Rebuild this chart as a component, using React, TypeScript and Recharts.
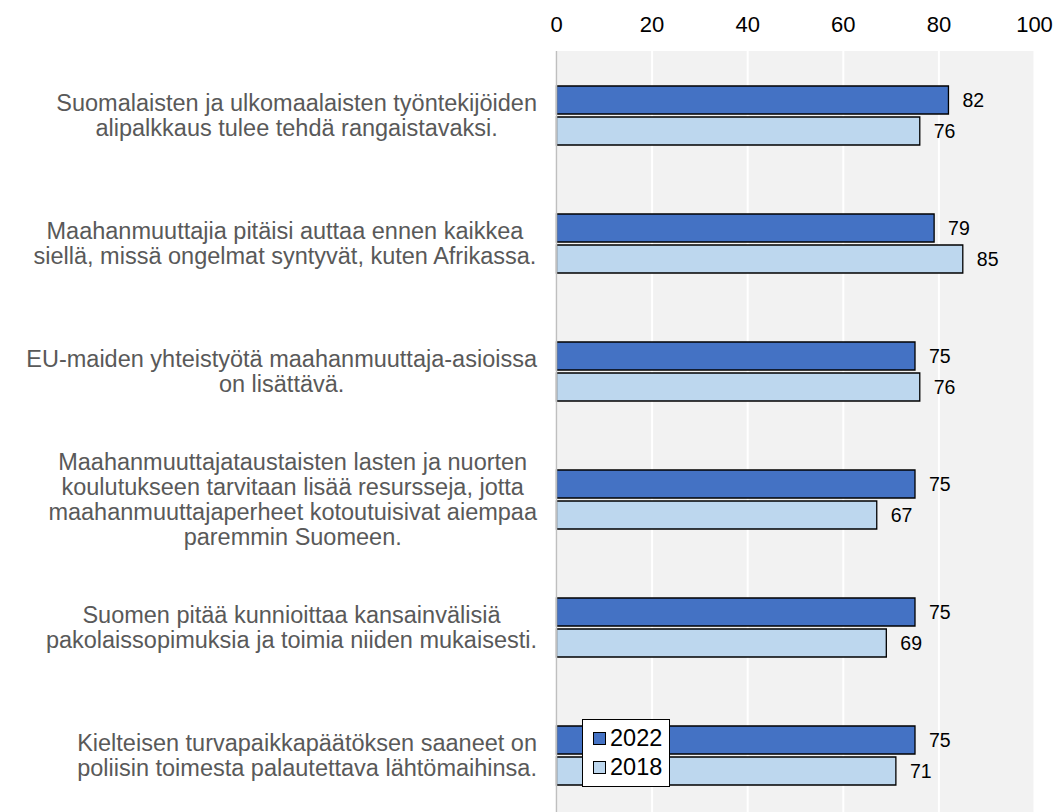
import React from 'react';
import {
  BarChart,
  Bar,
  XAxis,
  YAxis,
  CartesianGrid,
  LabelList,
  Legend,
} from 'recharts';

// Kysymykset (rivinvaihdot kuten kuvassa)
const categories = [
  'Suomalaisten ja ulkomaalaisten työntekijöiden\nalipalkkaus tulee tehdä rangaistavaksi.',
  'Maahanmuuttajia pitäisi auttaa ennen kaikkea\nsiellä, missä ongelmat syntyvät, kuten Afrikassa.',
  'EU-maiden yhteistyötä maahanmuuttaja-asioissa\non lisättävä.',
  'Maahanmuuttajataustaisten lasten ja nuorten\nkoulutukseen tarvitaan lisää resursseja, jotta\nmaahanmuuttajaperheet kotoutuisivat aiempaa\nparemmin Suomeen.',
  'Suomen pitää kunnioittaa kansainvälisiä\npakolaissopimuksia ja toimia niiden mukaisesti.',
  'Kielteisen turvapaikkapäätöksen saaneet on\npoliisin toimesta palautettava lähtömaihinsa.',
];

const values2022 = [82, 79, 75, 75, 75, 75];
const values2018 = [76, 85, 76, 67, 69, 71];

const xTicks = [0, 20, 40, 60, 80, 100];

const seriesNames = ['2022', '2018'];
const seriesColors = ['#4472C4', '#BDD7EE'];

const data = categories.map((name, i) => ({
  name,
  y2022: values2022[i],
  y2018: values2018[i],
}));

const FONT = '"Liberation Sans", Arial, sans-serif';
const LABEL_SIZE = 23.5;
const LABEL_RIGHT = 537;
const LINE_H = 25;

let ctx: CanvasRenderingContext2D | null = null;
const measure = (s: string) => {
  if (!ctx) {
    ctx = document.createElement('canvas').getContext('2d');
  }
  if (!ctx) return s.length * LABEL_SIZE * 0.5;
  ctx.font = `${LABEL_SIZE}px "Liberation Sans", Arial, sans-serif`;
  return ctx.measureText(s).width;
};

const CategoryTick = (props: any) => {
  const { y, payload } = props;
  const lines: string[] = String(payload.value).split('\n');
  const blockW = Math.max(...lines.map(measure));
  const cx = LABEL_RIGHT - blockW / 2;
  const startY = y - ((lines.length - 1) * LINE_H) / 2;
  return (
    <text textAnchor="middle" fontSize={LABEL_SIZE} fill="#595959" fontFamily={FONT}>
      {lines.map((l, i) => (
        <tspan key={i} x={cx} y={startY + i * LINE_H} dy="0.36em">
          {l}
        </tspan>
      ))}
    </text>
  );
};

const ValueTick = (props: any) => {
  const { x, payload } = props;
  return (
    <text x={x} y={32} textAnchor="middle" fontSize={22} fill="#000" fontFamily={FONT}>
      {payload.value}
    </text>
  );
};

const LegendBox = () => (
  <div
    style={{
      background: '#fff',
      border: '1px solid #000',
      width: 88,
      padding: '4px 0 4px 10px',
      boxSizing: 'border-box',
      fontFamily: FONT,
      fontSize: 23.5,
      color: '#000',
    }}
  >
    {seriesNames.map((n, i) => (
      <div key={n} style={{ display: 'flex', alignItems: 'center', height: 29 }}>
        <span
          style={{
            display: 'inline-block',
            width: 11,
            height: 11,
            background: seriesColors[i],
            border: '1px solid #000',
            marginRight: 4,
          }}
        />
        {n}
      </div>
    ))}
  </div>
);

export default function App() {
  return (
    <div
      style={{
        position: 'fixed',
        left: 0,
        top: 0,
        width: 1058,
        height: 812,
        overflow: 'hidden',
        background: '#fff',
        fontFamily: FONT,
      }}
    >
      <BarChart
        width={1058}
        height={819}
        data={data}
        layout="vertical"
        margin={{ top: 0, right: 23.5, bottom: 0, left: 0 }}
        barSize={28}
        barGap={3}
      >
        <CartesianGrid
          horizontal={false}
          vertical
          stroke="#ffffff"
          strokeWidth={2}
          fill="#f2f2f2"
        />
        <XAxis
          type="number"
          orientation="top"
          domain={[0, 100]}
          ticks={xTicks}
          height={51}
          axisLine={false}
          tickLine={false}
          tick={<ValueTick />}
          interval={0}
        />
        <YAxis
          type="category"
          dataKey="name"
          width={556.5}
          axisLine={{ stroke: '#bfbfbf', strokeWidth: 1.5 }}
          tickLine={false}
          tick={<CategoryTick />}
          interval={0}
        />
        <Legend
          layout="vertical"
          align="center"
          verticalAlign="middle"
          content={<LegendBox />}
          wrapperStyle={{ left: 582, top: 719, width: 'auto', height: 'auto' }}
        />
        <Bar
          dataKey="y2022"
          name={seriesNames[0]}
          fill={seriesColors[0]}
          stroke="#000"
          strokeWidth={1.3}
          isAnimationActive={false}
        >
          <LabelList
            dataKey="y2022"
            position="right"
            offset={14}
            fill="#000"
            fontSize={19.5}
            fontFamily={FONT}
          />
        </Bar>
        <Bar
          dataKey="y2018"
          name={seriesNames[1]}
          fill={seriesColors[1]}
          stroke="#000"
          strokeWidth={1.3}
          isAnimationActive={false}
        >
          <LabelList
            dataKey="y2018"
            position="right"
            offset={14}
            fill="#000"
            fontSize={19.5}
            fontFamily={FONT}
          />
        </Bar>
      </BarChart>
    </div>
  );
}
